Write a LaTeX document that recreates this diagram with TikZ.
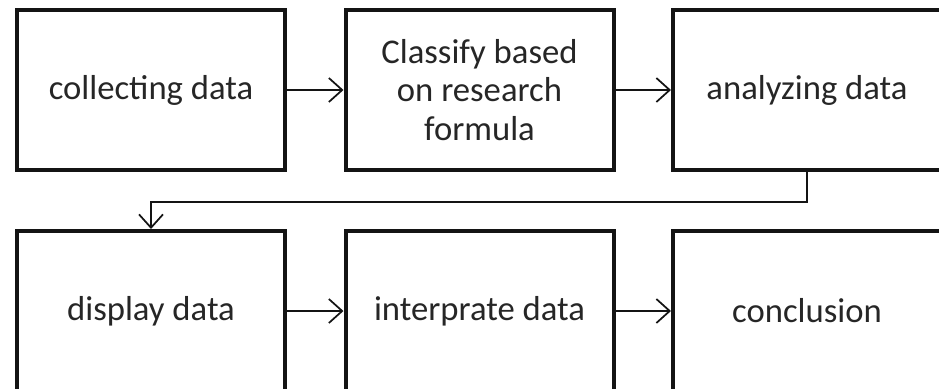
\documentclass[tikz,border=0pt]{standalone}
\usepackage{fontspec}
\setmainfont{Carlito}
\usetikzlibrary{arrows.meta}
\definecolor{boxline}{RGB}{20,20,20}
\definecolor{boxtext}{RGB}{38,38,38}

\begin{document}
\begin{tikzpicture}[x=0.75pt,y=-0.75pt,line width=3pt,
  stepbox/.style={draw=boxline,minimum width=201pt,minimum height=120pt,
    align=center,text=boxtext,font=\fontsize{26}{29}\selectfont},
  flow/.style={draw=boxline,line width=1.3pt,
    -{Straight Barb[length=10pt,width=18pt,line width=1.3pt]}}]
  \useasboundingbox (0,0) rectangle (939,389);
  \clip (0,0) rectangle (939,389);
  \node[stepbox] (collect) at (151,90) {collecting data};
  \node[stepbox] (classify) at (479.5,90) {Classify based\\on research\\formula};
  \node[stepbox] (analyze) at (807,90) {analyzing data};
  \node[stepbox] (display) at (151,311) {display data};
  \node[stepbox] (interp) at (479.5,311) {interprate data};
  \node[stepbox] (concl) at (807,311) {conclusion};
  \draw[flow] (collect) -- (classify);
  \draw[flow] (classify) -- (analyze);
  \draw[flow] (analyze.south) -- ++(0,30) -| (display.north);
  \draw[flow] (display) -- (interp);
  \draw[flow] (interp) -- (concl);
\end{tikzpicture}
\end{document}
